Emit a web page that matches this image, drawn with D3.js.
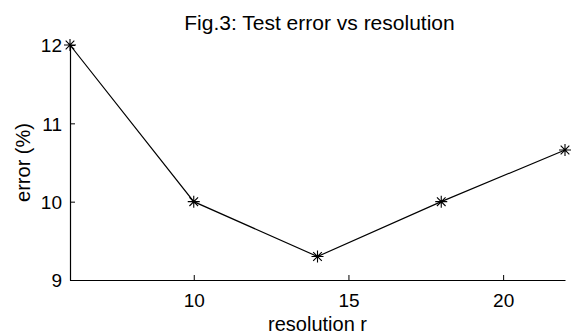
<!DOCTYPE html>
<html>
<head>
<meta charset="utf-8">
<script src="https://cdn.jsdelivr.net/npm/d3@7"></script>
<style>
  body { margin: 0; background: white; }
  svg { display: block; }
  text { font-family: "Liberation Sans", Arial, Helvetica, sans-serif; fill: black; }
</style>
</head>
<body>
<div id="chart"></div>
<script>
// data
const resolution = [6, 10, 14, 18, 22];
const errorPct = [12, 10, 9.3, 10, 10.66];
const xTicks = [10, 15, 20];
const yTicks = [9, 10, 11, 12];

const width = 572;
const height = 334;
const margin = { top: 45, right: 7, bottom: 54, left: 70 };

const svg = d3.select('#chart')
  .append('svg')
    .attr('width', width)
    .attr('height', height);

const x = d3.scaleLinear()
  .domain([6, 22])
  .range([margin.left, width - margin.right]);

const y = d3.scaleLinear()
  .domain([9, 12])
  .range([height - margin.bottom, margin.top]);

// axes, ticks point inward like the matlab figure
const xAxis = svg.append('g')
  .attr('transform', `translate(0,${height - margin.bottom})`)
  .call(d3.axisBottom(x).tickValues(xTicks).tickFormat(d3.format('d'))
    .tickSizeInner(-5).tickSizeOuter(0).tickPadding(14));

const yAxis = svg.append('g')
  .attr('transform', `translate(${margin.left},0)`)
  .call(d3.axisLeft(y).tickValues(yTicks).tickFormat(d3.format('d'))
    .tickSizeInner(-5).tickSizeOuter(0).tickPadding(8));

[xAxis, yAxis].forEach(g => {
  g.select('.domain').attr('stroke', 'black').attr('stroke-width', 1.2);
  g.selectAll('.tick line').attr('stroke', 'black');
  g.selectAll('.tick text')
    .attr('font-size', 19)
    .attr('font-family', '"Liberation Sans", Arial, sans-serif')
    .attr('fill', 'black');
});

yAxis.selectAll('.tick text').attr('dy', '0.36em');

const pts = resolution.map((r, i) => [r, errorPct[i]]);

svg.append('path')
  .datum(pts)
  .attr('fill', 'none')
  .attr('stroke', 'black')
  .attr('stroke-width', 1.2)
  .attr('d', d3.line().x(d => x(d[0])).y(d => y(d[1])));

// asterisk markers
const r = 6, rd = r * 0.72;
const star = `M${-r},0H${r}M0,${-r}V${r}M${-rd},${-rd}L${rd},${rd}M${-rd},${rd}L${rd},${-rd}`;

svg.append('g')
  .selectAll('path')
  .data(pts)
  .join('path')
    .attr('transform', d => `translate(${x(d[0])},${y(d[1])})`)
    .attr('d', star)
    .attr('fill', 'none')
    .attr('stroke', 'black')
    .attr('stroke-width', 1.1);

// title and labels
const cx = (margin.left + width - margin.right) / 2;

svg.append('text')
  .attr('x', cx + 2)
  .attr('y', 30)
  .attr('text-anchor', 'middle')
  .attr('font-size', 21)
  .text('Fig.3: Test error vs resolution');

svg.append('text')
  .attr('x', cx)
  .attr('y', 331)
  .attr('text-anchor', 'middle')
  .attr('font-size', 20)
  .text('resolution r');

svg.append('text')
  .attr('transform', `translate(30,${(margin.top + height - margin.bottom) / 2}) rotate(-90)`)
  .attr('text-anchor', 'middle')
  .attr('font-size', 20)
  .text('error (%)');
</script>
</body>
</html>
